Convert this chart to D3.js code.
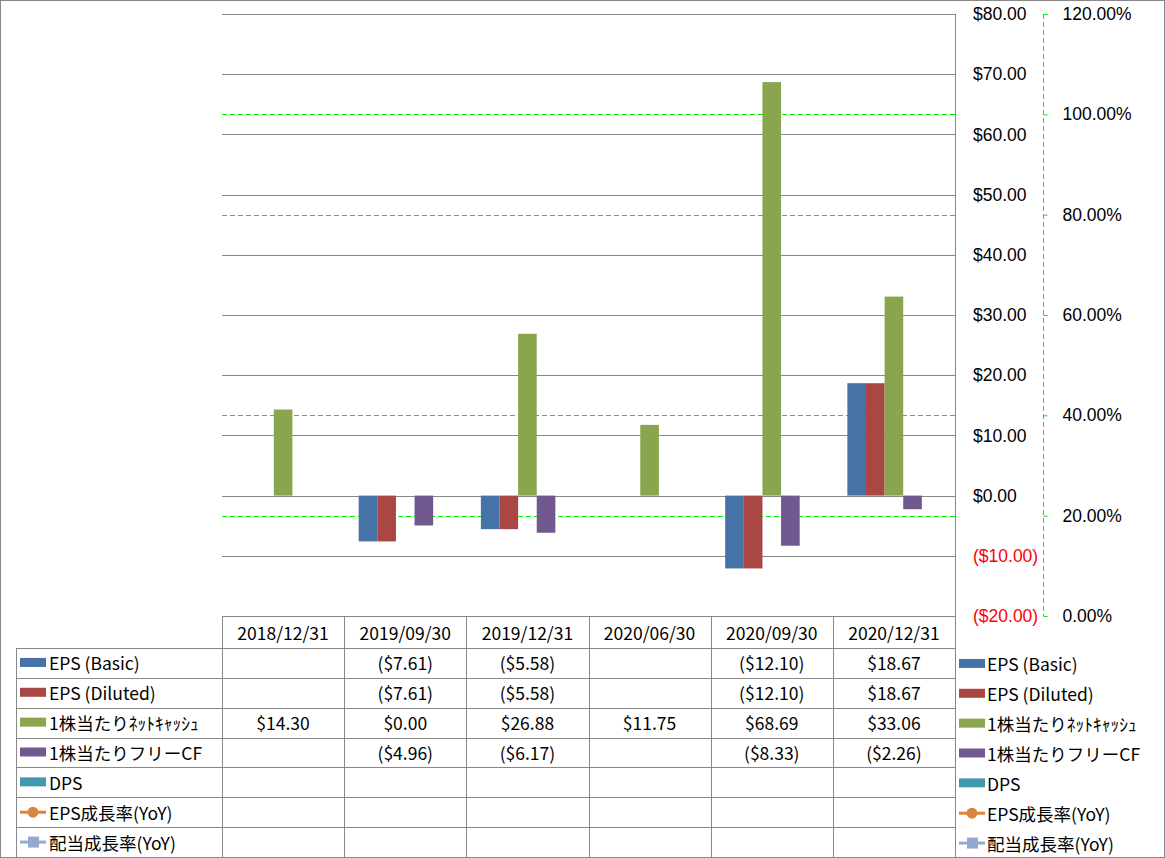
<!DOCTYPE html>
<html>
<head>
<meta charset="utf-8">
<script src="https://cdn.jsdelivr.net/npm/d3@7"></script>
<style>
  html, body { margin: 0; padding: 0; background: #fff; }
  svg { display: block; font-family: "Noto Sans CJK JP", "Noto Sans", sans-serif; }
</style>
</head>
<body>
<svg id="chart" width="1165" height="858"></svg>
<script>
const categories = ["2018/12/31", "2019/09/30", "2019/12/31", "2020/06/30", "2020/09/30", "2020/12/31"];
const seriesNames = ["EPS (Basic)", "EPS (Diluted)", "1株当たりﾈｯﾄｷｬｯｼｭ", "1株当たりフリーCF", "DPS", "EPS成長率(YoY)", "配当成長率(YoY)"];
const epsBasic   = [null, -7.61, -5.58, null, -12.10, 18.67];
const epsDiluted = [null, -7.61, -5.58, null, -12.10, 18.67];
const netCash    = [14.30, 0.00, 26.88, 11.75, 68.69, 33.06];
const freeCF     = [null, -4.96, -6.17, null, -8.33, -2.26];
const dps        = [null, null, null, null, null, null];
const epsGrowth  = [null, null, null, null, null, null];
const divGrowth  = [null, null, null, null, null, null];
const leftTicks  = [-20, -10, 0, 10, 20, 30, 40, 50, 60, 70, 80];
const rightTicks = [0, 0.2, 0.4, 0.6, 0.8, 1.0, 1.2];
const greenLines = [0.2, 0.4, 0.6, 0.8, 1.0];

const colors = ["#4572A7", "#AA4643", "#89A54E", "#71588F", "#4198AF", "#DB843D", "#93A9CF"];
const barSeries = [epsBasic, epsDiluted, netCash, freeCF, dps];
const allSeries = [epsBasic, epsDiluted, netCash, freeCF, dps, epsGrowth, divGrowth];

const svg = d3.select("#chart");
const W = 1165, H = 858;
const plotL = 222, plotR = 955, plotT = 14, plotB = 616;
const FS = 17.5;

svg.append("rect").attr("x", 0.5).attr("y", 0.5).attr("width", W - 1).attr("height", H - 1)
  .attr("fill", "#fff").attr("stroke", "#888");

const x = d3.scaleBand().domain(categories).range([plotL, plotR]).padding(0);
const xs = d3.scaleBand().domain(d3.range(5)).range([0, x.bandwidth()]).paddingInner(0).paddingOuter(0.78);
const y = d3.scaleLinear().domain([-20, 80]).range([plotB, plotT]);
const y2 = d3.scaleLinear().domain([0, 1.2]).range([plotB, plotT]);

// gridlines
svg.append("g").selectAll("line").data(leftTicks).join("line")
  .attr("x1", plotL).attr("x2", plotR)
  .attr("y1", d => Math.round(y(d)) + 0.5).attr("y2", d => Math.round(y(d)) + 0.5)
  .attr("stroke", "#888").attr("stroke-width", 1);

// green dashed secondary gridlines
svg.append("g").selectAll("line").data(greenLines).join("line")
  .attr("x1", plotL).attr("x2", plotR)
  .attr("y1", d => Math.round(y2(d)) + 0.5).attr("y2", d => Math.round(y2(d)) + 0.5)
  .attr("stroke", "#00EE00").attr("stroke-width", 1).attr("stroke-dasharray", "5,3");

// bars
barSeries.forEach((ser, si) => {
  svg.append("g").selectAll("rect")
    .data(ser.map((v, i) => ({ v, c: categories[i] })).filter(d => d.v !== null))
    .join("rect")
    .attr("x", d => x(d.c) + xs(si))
    .attr("width", xs.bandwidth())
    .attr("y", d => y(Math.max(0, d.v)))
    .attr("height", d => Math.abs(y(d.v) - y(0)))
    .attr("fill", colors[si]);
});

// primary axis line (vertical at plot right)
svg.append("line").attr("x1", plotR + 0.5).attr("x2", plotR + 0.5).attr("y1", plotT).attr("y2", H - 1)
  .attr("stroke", "#888");

// left-value axis labels
const fmt = v => v < 0 ? "($" + Math.abs(v).toFixed(2) + ")" : "$" + v.toFixed(2);
const axL = svg.append("g").attr("transform", `translate(${plotR + 18},0)`)
  .call(d3.axisRight(y).tickValues(leftTicks).tickSize(0).tickPadding(0).tickFormat(fmt));
axL.select(".domain").remove();
axL.selectAll("text").attr("font-size", FS).attr("font-family", "inherit")
  .attr("fill", d => d < 0 ? "#FF0000" : "#000");

// secondary axis: dashed green line with ticks
const ax2x = 1043;
svg.append("line").attr("x1", ax2x + 0.5).attr("x2", ax2x + 0.5).attr("y1", plotT).attr("y2", plotB)
  .attr("stroke", "#00EE00").attr("stroke-dasharray", "5,3");
const axR = svg.append("g").attr("transform", `translate(${ax2x + 0.5},0)`)
  .call(d3.axisRight(y2).tickValues(rightTicks).tickSize(4).tickPadding(15)
    .tickFormat(d => (d * 100).toFixed(2) + "%"));
axR.select(".domain").remove();
axR.selectAll(".tick line").attr("stroke", "#00EE00");
axR.selectAll("text").attr("font-size", FS).attr("font-family", "inherit").attr("fill", "#000");

// data table
const rowTop = 648, rowH = (857 - 648) / 7, legL = 16.5;
const tbl = svg.append("g");
tbl.append("line").attr("x1", plotL).attr("x2", plotR).attr("y1", plotB + 0.5).attr("y2", plotB + 0.5).attr("stroke", "#888");
d3.range(7).forEach(r => {
  const yy = Math.round(rowTop + r * rowH) + 0.5;
  tbl.append("line").attr("x1", legL).attr("x2", plotR).attr("y1", yy).attr("y2", yy).attr("stroke", "#888");
});
tbl.append("line").attr("x1", legL).attr("x2", legL).attr("y1", rowTop).attr("y2", H - 1).attr("stroke", "#888");
categories.forEach(c => {
  const xx = Math.round(x(c)) + 0.5;
  tbl.append("line").attr("x1", xx).attr("x2", xx).attr("y1", plotB).attr("y2", H - 1).attr("stroke", "#888");
});
tbl.selectAll("text.hdr").data(categories).join("text").attr("class", "hdr")
  .attr("x", d => x(d) + x.bandwidth() / 2).attr("y", (plotB + rowTop) / 2)
  .attr("text-anchor", "middle").attr("dominant-baseline", "central")
  .attr("font-size", FS).text(d => d);
allSeries.forEach((ser, si) => {
  const cy = rowTop + (si + 0.5) * rowH;
  tbl.append("g").selectAll("text").data(ser.map((v, i) => ({ v, c: categories[i] })).filter(d => d.v !== null))
    .join("text")
    .attr("x", d => x(d.c) + x.bandwidth() / 2).attr("y", cy)
    .attr("text-anchor", "middle").attr("dominant-baseline", "central")
    .attr("font-size", FS).text(d => fmt(d.v));
});

function drawKey(g, si, kx, cy) {
  if (si < 5) {
    g.append("rect").attr("x", kx).attr("y", cy - 5).attr("width", 26).attr("height", 9).attr("fill", colors[si]);
  } else {
    g.append("line").attr("x1", kx).attr("x2", kx + 26).attr("y1", cy).attr("y2", cy)
      .attr("stroke", colors[si]).attr("stroke-width", 3);
    if (si === 5) g.append("circle").attr("cx", kx + 13).attr("cy", cy).attr("r", 5.5).attr("fill", colors[si]);
    else g.append("rect").attr("x", kx + 8).attr("y", cy - 5.5).attr("width", 11).attr("height", 11).attr("fill", colors[si]);
  }
}
seriesNames.forEach((name, si) => {
  const cy = rowTop + (si + 0.5) * rowH;
  drawKey(tbl, si, 20, cy);
  tbl.append("text").attr("x", 49).attr("y", cy).attr("dominant-baseline", "central")
    .attr("font-size", FS).text(name);
  const cy2 = cy + 1;
  drawKey(svg, si, 959, cy2);
  svg.append("text").attr("x", 987).attr("y", cy2).attr("dominant-baseline", "central")
    .attr("font-size", FS).text(name);
});
</script>
</body>
</html>
